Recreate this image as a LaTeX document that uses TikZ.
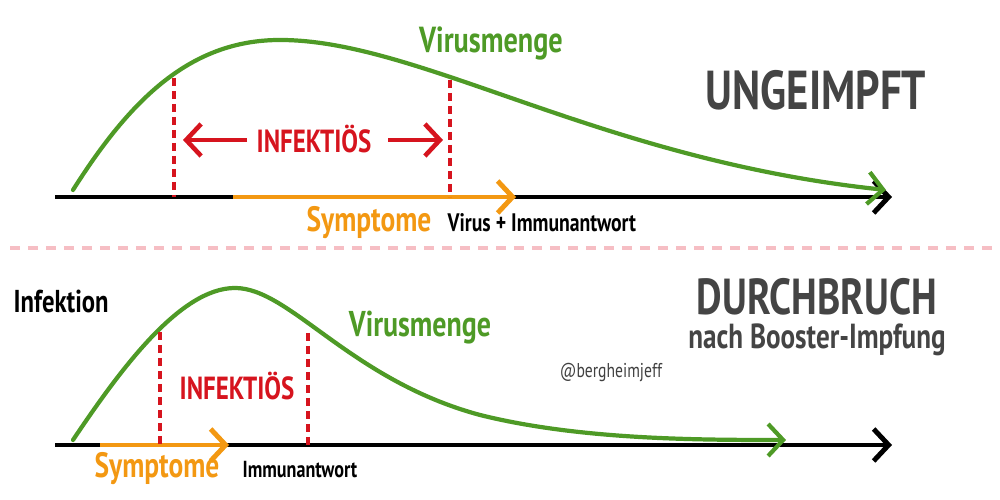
\documentclass[tikz,border=0pt]{standalone}
\usepackage{fontspec}
\setmainfont{PT Sans}[FakeStretch=0.78]
\usepackage{tikz}
\usetikzlibrary{arrows.meta}
\definecolor{vmGreen}{RGB}{78,154,38}
\definecolor{vmRed}{RGB}{214,20,30}
\definecolor{vmOrange}{RGB}{243,152,18}
\definecolor{vmGray}{RGB}{68,68,68}
\definecolor{vmPink}{RGB}{246,190,196}

\begin{document}
\begin{tikzpicture}[x=.1mm,y=.1mm]
\tikzset{
barb/.style={-{Straight Barb[length=1.5mm,width=3.2mm]}},
axis/.style={barb,draw=black,line width=1.4pt},
virus/.style={barb,draw=vmGreen,line width=1.2pt,line cap=round},
sympt/.style={barb,draw=vmOrange,line width=1.4pt},
infect/.style={draw=vmRed,line width=1.15pt,dash pattern=on .8mm off .5mm},
span/.style={barb,draw=vmRed,line width=1.3pt},
lbl/.style={inner sep=0pt,font=\bfseries\fontsize{#1}{#1}\selectfont},
title/.style={lbl=#1,text=vmGray}
}
\useasboundingbox (0,0) rectangle (1000,500);

% --- ungeimpft (oben)
\coordinate (ua0) at (55,303);
\coordinate (ua1) at (892,303);
\coordinate (us0) at (233,303);
\coordinate (us1) at (516,303);
\coordinate (uv0) at (73,310);
\coordinate (uvP) at (280,460);
\coordinate (uv1) at (886,310);
\coordinate (ud1) at (174,422);
\coordinate (ud1b) at (174,303);
\coordinate (ud2) at (450,420);
\coordinate (ud2b) at (450,303);

\draw[axis] (ua0) -- (ua1);
\draw[sympt] (us0) -- (us1);
\draw[virus] (uv0) .. controls (130,400) and (190,460) .. (uvP)
  .. controls (420,460) and (600,340) .. (uv1);
\draw[infect] (ud1) -- (ud1b);
\draw[infect] (ud2) -- (ud2b);

\node[lbl=9.1pt,text=vmRed,anchor=base] (uinf) at (314,347) {INFEKTIÖS};
\coordinate (uiL) at (247,360);
\coordinate (uiLt) at (183,360);
\coordinate (uiR) at (388,360);
\coordinate (uiRt) at (443,360);
\draw[span] (uiL) -- (uiLt);
\draw[span] (uiR) -- (uiRt);

\node[lbl=10.3pt,text=vmGreen,anchor=base] (uvir) at (491,447) {Virusmenge};
\node[title=15.6pt,anchor=base] (ungeimpft) at (816,390) {UNGEIMPFT};
\node[lbl=10pt,text=vmOrange,anchor=base] (usym) at (369,268) {Symptome};
\node[lbl=7.2pt,anchor=base west] (uimm) at (447,268) {Virus + Immunantwort};

\draw[draw=vmPink,line width=1.4pt,dash pattern=on 1mm off .8mm] (10,252) -- (995,252);

% --- durchbruch (unten)
\coordinate (da0) at (55,55);
\coordinate (da1) at (892,55);
\coordinate (ds0) at (100,55);
\coordinate (ds1) at (229,55);
\coordinate (dv0) at (73,60);
\coordinate (dvP) at (235,212);
\coordinate (dvM) at (480,85);
\coordinate (dv1) at (786,60);
\coordinate (dd1) at (160,168);
\coordinate (dd1b) at (160,55);
\coordinate (dd2) at (308,167);
\coordinate (dd2b) at (308,55);

\draw[axis] (da0) -- (da1);
\draw[sympt] (ds0) -- (ds1);
\draw[virus] (dv0) .. controls (120,130) and (180,212) .. (dvP)
  .. controls (290,212) and (350,120) .. (dvM)
  .. controls (580,60) and (700,60) .. (dv1);
\draw[infect] (dd1) -- (dd1b);
\draw[infect] (dd2) -- (dd2b);

\node[lbl=9.1pt,text=vmRed,anchor=base] (dinf) at (237,100) {INFEKTIÖS};
\node[lbl=10.2pt,text=vmGreen,anchor=base] (dvir) at (420,163) {Virusmenge};
\node[lbl=9pt,anchor=base west] (infektion) at (13,187) {Infektion};
\node[title=14.4pt,anchor=base] (durchbruch) at (817,185) {DURCHBRUCH};
\node[title=9.9pt,anchor=base] (booster) at (817,151) {nach Booster-Impfung};
\node[inner sep=0pt,font=\fontsize{5.7pt}{5.7pt}\selectfont,text=black!75,anchor=base] (handle) at (611,122) {@bergheimjeff};
\node[lbl=10pt,text=vmOrange,anchor=base] (dsym) at (157,22) {Symptome};
\node[lbl=6.6pt,anchor=base west] (dimm) at (242,22) {Immunantwort};
\end{tikzpicture}
\end{document}
